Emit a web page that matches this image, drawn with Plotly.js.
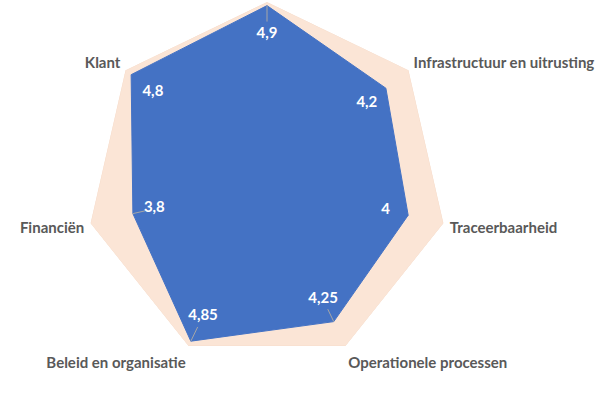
<!DOCTYPE html>
<html>
<head>
<meta charset="utf-8">
<script src="https://cdn.plot.ly/plotly-3.0.1.min.js"></script>
<style>html,body{margin:0;padding:0;background:#fff;}#chart{width:616px;height:394px;}</style>
</head>
<body>
<div id="chart"></div>
<script>
const categories = [" ", "Infrastructuur en uitrusting", "Traceerbaarheid", "Operationele processen", "Beleid en organisatie", "Financiën", "Klant"];
const scores = [4.9, 4.2, 4, 4.25, 4.85, 3.8, 4.8];
const maxScore = [5, 5, 5, 5, 5, 5, 5];
const leaderCategories = [" ", "Operationele processen", "Beleid en organisatie", "Financiën"];

const closeLoop = a => a.concat([a[0]]);
const fmt = v => String(v).replace('.', ',');

const leaderR = [], leaderT = [];
leaderCategories.forEach(c => {
  const v = scores[categories.indexOf(c)];
  leaderR.push(v, v * 0.91, null);
  leaderT.push(c, c, null);
});

const traces = [
  {
    type: 'scatterpolar', r: closeLoop(maxScore), theta: closeLoop(categories),
    mode: 'lines', fill: 'toself', fillcolor: '#FBE5D6',
    line: {color: '#F6DCCB', width: 1}, hoverinfo: 'skip'
  },
  {
    type: 'scatterpolar', r: closeLoop(scores), theta: closeLoop(categories),
    mode: 'lines', fill: 'toself', fillcolor: '#4472C4',
    line: {color: '#4472C4', width: 1}, hoverinfo: 'skip'
  },
  {
    type: 'scatterpolar', r: leaderR, theta: leaderT,
    mode: 'lines', line: {color: '#A6A6A6', width: 1}, connectgaps: false, hoverinfo: 'skip'
  },
  {
    type: 'scatterpolar', r: scores.map(v => v * 0.84), theta: categories,
    mode: 'text', text: scores.map(fmt),
    textfont: {family: 'Lato, sans-serif', size: 15, color: '#FFFFFF', weight: 'bold'},
    hoverinfo: 'skip'
  }
];

const W = 616, H = 394, cx = 267, cy = 183, R = 181;
const layout = {
  width: W, height: H,
  margin: {l: 0, r: 0, t: 0, b: 0},
  paper_bgcolor: '#FFFFFF',
  showlegend: false,
  polar: {
    domain: {x: [(cx - R) / W, (cx + R) / W], y: [(H - cy - R) / H, (H - cy + R) / H]},
    bgcolor: 'rgba(0,0,0,0)',
    gridshape: 'linear',
    radialaxis: {visible: false, range: [0, 5]},
    angularaxis: {
      direction: 'clockwise', rotation: 90,
      showgrid: false, showline: false,
      ticks: 'outside', ticklen: 3, tickcolor: 'rgba(0,0,0,0)',
      tickfont: {family: 'Lato, sans-serif', size: 15, color: '#595959', weight: 'bold'}
    }
  }
};

Plotly.newPlot('chart', traces, layout, {displayModeBar: false, staticPlot: true});
</script>
</body>
</html>
